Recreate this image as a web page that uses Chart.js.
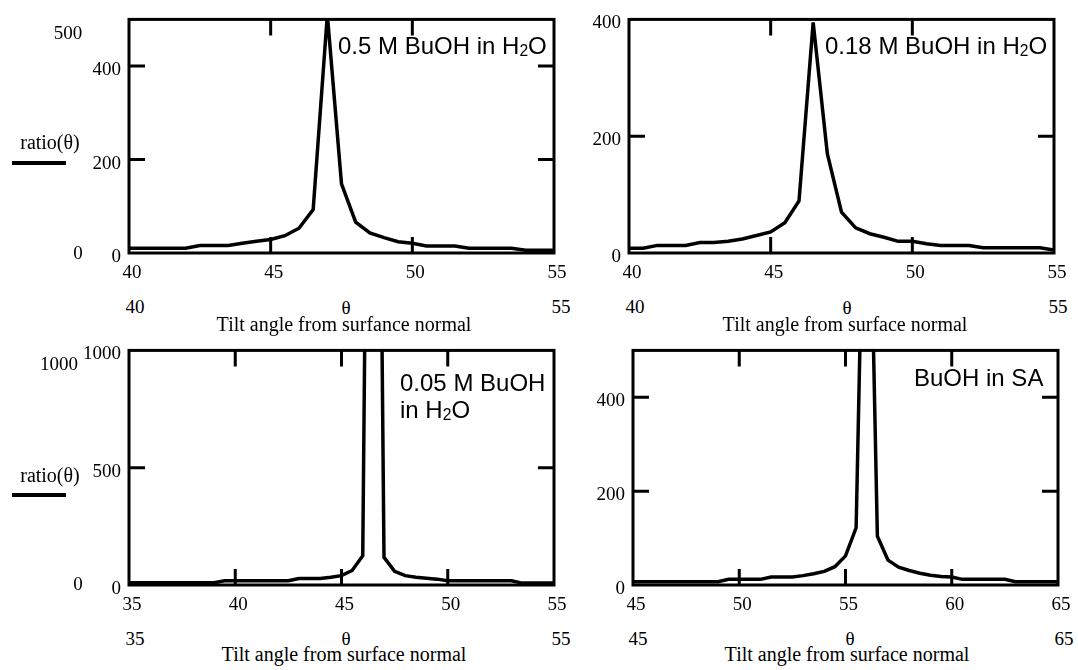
<!DOCTYPE html>
<html>
<head>
<meta charset="utf-8">
<script src="https://cdn.jsdelivr.net/npm/chart.js@4.4.0/dist/chart.umd.min.js"></script>
<style>
  body { margin: 0; width: 1078px; height: 670px; background: #fff; position: relative; overflow: hidden; font-family: "Liberation Serif", serif; color: #000; }
  canvas { position: absolute; }
  .t { position: absolute; transform: translate(-50%, -50%); font-size: 20px; line-height: 1; white-space: nowrap; }
  .n { font-size: 19px; }
  .lbl { position: absolute; font-family: "Liberation Sans", Arial, sans-serif; font-size: 24px; line-height: 27px; white-space: nowrap; }
  .lbl sub { font-size: 65%; vertical-align: -0.12em; line-height: 0; }
  .key { position: absolute; height: 4px; background: #000; }
</style>
</head>
<body>
<canvas id="c1" width="505" height="293" style="left:69px;top:0px"></canvas>
<canvas id="c2" width="505" height="293" style="left:569px;top:0px"></canvas>
<canvas id="c3" width="505" height="294" style="left:69px;top:331px"></canvas>
<canvas id="c4" width="505" height="294" style="left:573px;top:331px"></canvas>

<!-- top left -->
<div class="t n" style="left:68px;top:32px">500</div>
<div class="t" style="left:50px;top:142px">ratio(θ)</div>
<div class="key" style="left:12px;top:161px;width:54px"></div>
<div class="t n" style="left:78px;top:252px">0</div>
<div class="t n" style="left:135px;top:306px">40</div>
<div class="t n" style="left:346px;top:307px">θ</div>
<div class="t n" style="left:561px;top:306px">55</div>
<div class="t" style="left:344px;top:324px">Tilt angle from surfance normal</div>
<div class="lbl" style="left:338px;top:32px">0.5 M BuOH in H<sub>2</sub>O</div>

<!-- top right -->
<div class="t n" style="left:635px;top:306px">40</div>
<div class="t n" style="left:847px;top:307px">θ</div>
<div class="t n" style="left:1058px;top:306px">55</div>
<div class="t" style="left:845px;top:324px">Tilt angle from surface normal</div>
<div class="lbl" style="left:825px;top:32px">0.18 M BuOH in H<sub>2</sub>O</div>

<!-- bottom left -->
<div class="t n" style="left:59px;top:363px">1000</div>
<div class="t" style="left:50px;top:475px">ratio(θ)</div>
<div class="key" style="left:12px;top:493px;width:54px"></div>
<div class="t n" style="left:78px;top:583px">0</div>
<div class="t n" style="left:135px;top:638px">35</div>
<div class="t n" style="left:346px;top:638px">θ</div>
<div class="t n" style="left:561px;top:638px">55</div>
<div class="t" style="left:344px;top:654px">Tilt angle from surface normal</div>
<div class="lbl" style="left:400px;top:369px">0.05 M BuOH<br>in H<sub>2</sub>O</div>

<!-- bottom right -->
<div class="t n" style="left:638px;top:638px">45</div>
<div class="t n" style="left:850px;top:638px">θ</div>
<div class="t n" style="left:1064px;top:638px">65</div>
<div class="t" style="left:847px;top:654px">Tilt angle from surface normal</div>
<div class="lbl" style="left:914px;top:364px">BuOH in SA</div>

<script>
// tilt angles (deg)
const theta40to55 = [40, 40.5, 41, 41.5, 42, 42.5, 43, 43.5, 44, 44.5, 45, 45.5, 46, 46.5, 47, 47.5,
  48, 48.5, 49, 49.5, 50, 50.5, 51, 51.5, 52, 52.5, 53, 53.5, 54, 54.5, 55];
const theta35to55 = [35, 35.5, 36, 36.5, 37, 37.5, 38, 38.5, 39, 39.5, 40, 40.5, 41, 41.5, 42, 42.5,
  43, 43.5, 44, 44.5, 45, 45.5, 46, 46.5, 47, 47.5, 48, 48.5, 49, 49.5, 50, 50.5, 51, 51.5, 52, 52.5,
  53, 53.5, 54, 54.5, 55];
const theta45to65 = [45, 45.5, 46, 46.5, 47, 47.5, 48, 48.5, 49, 49.5, 50, 50.5, 51, 51.5, 52, 52.5,
  53, 53.5, 54, 54.5, 55, 55.5, 56, 56.5, 57, 57.5, 58, 58.5, 59, 59.5, 60, 60.5, 61, 61.5, 62, 62.5,
  63, 63.5, 64, 64.5, 65];

// ratio(theta) per sample
const ratio050 = [10, 10, 10, 10, 10, 16, 16, 16, 21, 25, 29, 37, 53, 93, 510, 148,
  66, 43, 33, 24, 21, 15, 15, 15, 10, 10, 10, 10, 6, 6, 6];
const ratio018 = [8, 8, 13, 13, 13, 18, 18, 20, 24, 30, 36, 52, 89, 395, 170, 70,
  43, 33, 27, 20, 20, 16, 13, 13, 13, 9, 9, 9, 9, 9, 5];
const ratio005 = [10, 10, 10, 10, 10, 10, 10, 10, 10, 18, 18, 18, 18, 18, 18, 18,
  28, 28, 28, 33, 40, 62, 125, 5000, 118, 58, 40, 33, 29, 25, 18, 18, 18, 18, 18, 18,
  18, 8, 8, 8, 8];
const ratioSA = [7, 7, 7, 7, 7, 7, 7, 7, 7, 12, 12, 12, 12, 17, 17, 17,
  20, 24, 29, 39, 62, 122, 1200, 104, 53, 38, 31, 25, 21, 18, 17, 12, 12, 12, 12, 12,
  7, 7, 7, 7, 7];

// ticks
const xTicks050 = [40, 45, 50, 55];
const yTicks050 = [0, 200, 400];
const xTicks018 = [40, 45, 50, 55];
const yTicks018 = [0, 200, 400];
const xTicks005 = [35, 40, 45, 50, 55];
const yTicks005 = [0, 500, 1000];
const xTicksSA = [45, 50, 55, 60, 65];
const yTicksSA = [0, 200, 400];

const tickFont = { family: 'Liberation Serif', size: 19 };

// box around the plot with short ticks pointing inward on all sides
const frame = {
  id: 'frame',
  afterDatasetsDraw(chart) {
    const { ctx, chartArea: a, scales: { x, y } } = chart;
    ctx.save();
    ctx.strokeStyle = '#000';
    ctx.lineWidth = 3;
    ctx.strokeRect(a.left, a.top, a.right - a.left, a.bottom - a.top);
    ctx.beginPath();
    x.ticks.forEach(t => {
      if (t.value <= x.min || t.value >= x.max) return;
      const px = x.getPixelForValue(t.value);
      ctx.moveTo(px, a.top); ctx.lineTo(px, a.top + 16);
      ctx.moveTo(px, a.bottom); ctx.lineTo(px, a.bottom - 16);
    });
    y.ticks.forEach(t => {
      if (t.value <= y.min || t.value >= y.max) return;
      const py = y.getPixelForValue(t.value);
      ctx.moveTo(a.left, py); ctx.lineTo(a.left + 16, py);
      ctx.moveTo(a.right, py); ctx.lineTo(a.right - 16, py);
    });
    ctx.stroke();
    ctx.restore();
  }
};

function makeChart(id, thetas, ratios, xMin, xMax, xTicks, yMax, yTicks) {
  return new Chart(document.getElementById(id), {
    type: 'line',
    data: {
      datasets: [{
        data: thetas.map((t, i) => ({ x: t, y: ratios[i] })),
        borderColor: '#000',
        borderWidth: 3.5,
        pointRadius: 0,
        tension: 0,
        fill: false
      }]
    },
    options: {
      responsive: false,
      animation: false,
      devicePixelRatio: 1,
      layout: { padding: { left: 0, top: 14, right: 20, bottom: 0 } },
      plugins: { legend: { display: false }, tooltip: { enabled: false } },
      scales: {
        x: {
          type: 'linear', min: xMin, max: xMax,
          grid: { display: false, drawTicks: false },
          border: { display: false },
          ticks: { font: tickFont, color: '#000', padding: 9, labelOffset: 3, maxRotation: 0, autoSkip: false, callback: v => String(v) },
          afterBuildTicks: s => { s.ticks = xTicks.map(v => ({ value: v })); },
          afterFit: s => { s.height = 40; }
        },
        y: {
          type: 'linear', min: 0, max: yMax,
          grid: { display: false, drawTicks: false },
          border: { display: false },
          ticks: { font: tickFont, color: '#000', padding: 8, labelOffset: 4, autoSkip: false, callback: v => String(v) },
          afterBuildTicks: s => { s.ticks = yTicks.map(v => ({ value: v })); },
          afterFit: s => { s.width = 60; }
        }
      }
    },
    plugins: [frame]
  });
}

makeChart('c1', theta40to55, ratio050, 40, 55, xTicks050, 500, yTicks050);
makeChart('c2', theta40to55, ratio018, 40, 55, xTicks018, 400, yTicks018);
makeChart('c3', theta35to55, ratio005, 35, 55, xTicks005, 1000, yTicks005);
makeChart('c4', theta45to65, ratioSA, 45, 65, xTicksSA, 500, yTicksSA);
</script>
</body>
</html>
